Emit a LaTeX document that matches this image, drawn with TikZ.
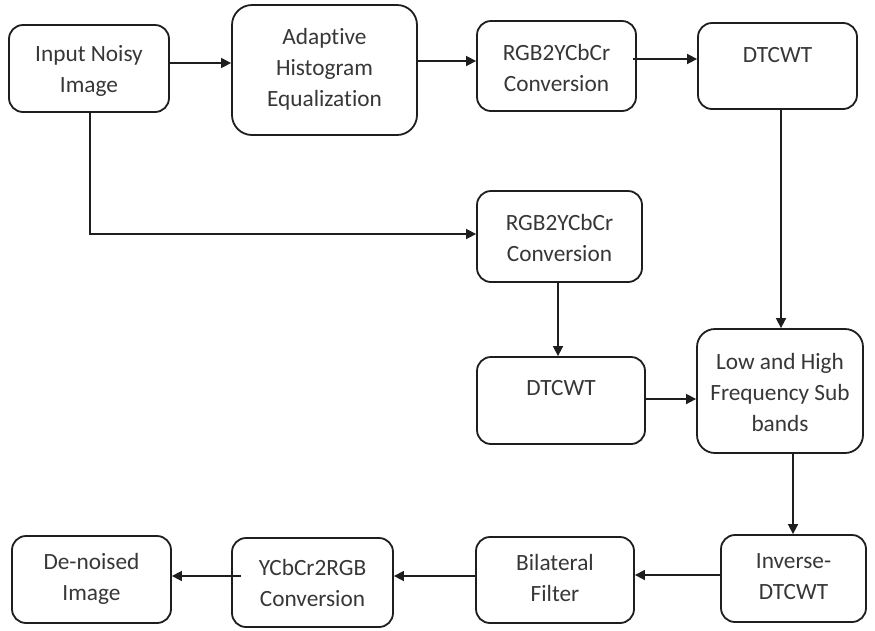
\documentclass[tikz,border=0pt]{standalone}
\usepackage{fontspec}
\setmainfont{Carlito}[Ligatures={NoCommon}]
\usetikzlibrary{arrows.meta}
\definecolor{linec}{RGB}{30,30,30}
\definecolor{textc}{RGB}{55,55,55}
\tikzset{
  box/.style={draw=linec, line width=1.8pt, rounded corners=14pt, inner sep=0pt, fill=white},
  txt/.style={text=textc, align=center, font=\fontsize{23.3}{31}\selectfont, inner sep=0pt},
  arr/.style={draw=linec, line width=1.6pt, -{Triangle[length=10pt,width=10pt]}},
  ln/.style={draw=linec, line width=1.6pt}
}
\begin{document}
\begin{tikzpicture}[x=1pt,y=-1pt]
\useasboundingbox (0,0) rectangle (875,630);
% boxes
\node[box, minimum width=160pt, minimum height=87pt] (inp) at (89,68.5) {};
\node[txt] (inpt) at (89,71) {Input Noisy\\Image};
\node[box, minimum width=185pt, minimum height=130pt, rounded corners=20pt] (ahe) at (324.5,70) {};
\node[txt] (ahet) at (324.5,69) {Adaptive\\Histogram\\Equalization};
\node[box, minimum width=159pt, minimum height=90pt] (rgba) at (556.5,66) {};
\node[txt] (rgbat) at (556.5,68) {RGB2YCbCr\\Conversion};
\node[box, minimum width=159pt, minimum height=86pt] (dta) at (777.5,66) {};
\node[txt] (dtat) at (777.5,55) {DTCWT};
\node[box, minimum width=165pt, minimum height=91pt] (rgbb) at (559.5,236.5) {};
\node[txt] (rgbbt) at (559.5,238) {RGB2YCbCr\\Conversion};
\node[box, minimum width=168pt, minimum height=87pt] (dtb) at (561,400.5) {};
\node[txt] (dtbt) at (561,388) {DTCWT};
\node[box, minimum width=166pt, minimum height=124pt, rounded corners=18pt] (lhf) at (780,391) {};
\node[txt] (lhft) at (780,392) {Low and High\\Frequency Sub\\bands};
\node[box, minimum width=145pt, minimum height=87pt] (inv) at (793.5,578.5) {};
\node[txt] (invt) at (793.5,577) {Inverse-\\DTCWT};
\node[box, minimum width=158pt, minimum height=86pt] (bil) at (555,580) {};
\node[txt] (bilt) at (555,578) {Bilateral\\Filter};
\node[box, minimum width=161pt, minimum height=89pt] (ycc) at (312.5,582.5) {};
\node[txt] (ycct) at (312.5,583) {YCbCr2RGB\\Conversion};
\node[box, minimum width=159pt, minimum height=87pt] (den) at (91.5,579.5) {};
\node[txt] (dent) at (91.5,579) {De-noised\\Image};
% connectors
\coordinate (c1) at (90,234);
\draw[arr] (inp.east |- 0,63) -- (ahe.west |- 0,63);
\draw[arr] ([xshift=-2pt]ahe.east |- 0,61) -- (rgba.west |- 0,61);
\draw[arr] ([xshift=-4pt]rgba.east |- 0,59) -- (dta.west |- 0,59);
\draw[arr] (dta.south -| 781,0) -- (lhf.north -| 781,0);
\draw[arr] (inp.south -| c1) -- (c1) -- (rgbb.west |- c1);
\draw[arr] (rgbb.south -| 558,0) -- (dtb.north -| 558,0);
\draw[arr] (dtb.east |- 0,399) -- (lhf.west |- 0,399);
\draw[arr] (lhf.south -| 793,0) -- (inv.north -| 793,0);
\draw[arr] (inv.west |- 0,575) -- (bil.east |- 0,575);
\draw[arr] (bil.west |- 0,576) -- (ycc.east |- 0,576);
\draw[arr] ([xshift=10pt]ycc.west |- 0,576) -- (den.east |- 0,576);
\end{tikzpicture}
\end{document}
